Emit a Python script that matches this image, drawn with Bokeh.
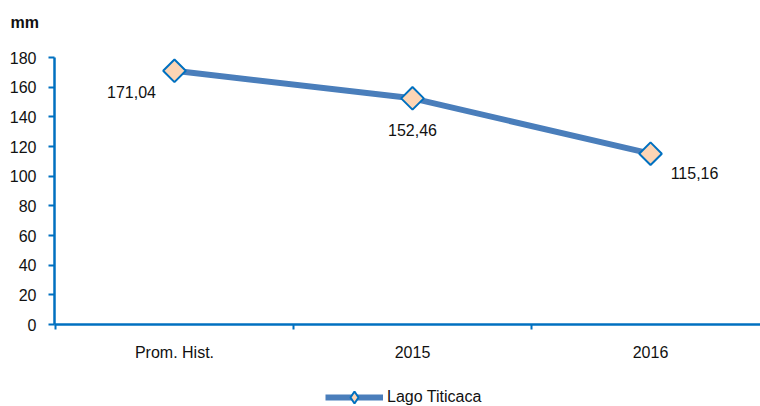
import math
from bokeh.plotting import figure
from bokeh.layouts import column
from bokeh.models import (ColumnDataSource, FixedTicker, Range1d, Legend, LegendItem)
from bokeh.core.properties import value
from bokeh.embed import file_html
from bokeh.resources import INLINE

# ---- data ----
categories = ["Prom. Hist.", "2015", "2016"]
values = [171.04, 152.46, 115.16]
value_labels = ["171,04", "152,46", "115,16"]
y_ticks = [0, 20, 40, 60, 80, 100, 120, 140, 160, 180]
y_axis_max = 180
series_name = "Lago Titicaca"
y_unit = "mm"

# ---- styles ----
label_dx = [-43, 0, 44]
label_dy = [21, 32, 19]
FONT = "Liberation Sans"
AXIS_BLUE = "#0070C0"
LINE_BLUE = "#4A7EBB"
MARKER_FILL = "#FCD5B5"
TEXT = "#111111"

xs = list(range(len(categories)))
src = ColumnDataSource(dict(x=xs, y=values, lbl=value_labels, dx=label_dx, dy=label_dy))

# frame extends 17px above the 180 tick (1.4833 px per unit) to leave room for the unit title
p = figure(width=760, height=376, output_backend="svg", toolbar_location=None,
           x_range=Range1d(-0.504, 2.462), y_range=Range1d(0, y_axis_max + 17 / 1.4833),
           min_border_left=54, min_border_right=0, min_border_top=40, min_border_bottom=52)
p.outline_line_color = None
p.xgrid.visible = False
p.ygrid.visible = False

p.title.text = y_unit
p.title.align = "left"
p.title.offset = -44
p.title.standoff = 19
p.title.text_font = FONT
p.title.text_font_size = "16px"
p.title.text_font_style = "bold"
p.title.text_color = TEXT

line_style = dict(line_color=LINE_BLUE, line_width=6)
marker_style = dict(size=16, fill_color=MARKER_FILL, line_color=AXIS_BLUE, line_width=2)

p.line("x", "y", source=src, **line_style)
p.scatter("x", "y", source=src, marker="square", angle=math.pi / 4, **marker_style)

p.text("x", "y", text="lbl", source=src, x_offset="dx", y_offset="dy",
       text_align="center", text_baseline="middle", text_font=value(FONT),
       text_font_size="16px", text_color=TEXT)

# x axis
xa = p.xaxis[0]
xa.ticker = FixedTicker(ticks=xs, minor_ticks=[-0.5, 0.5, 1.5, 2.5])
xa.major_label_overrides = {i: c for i, c in enumerate(categories)}
xa.major_tick_line_color = None
xa.major_tick_out = 5
xa.major_tick_in = 0
xa.minor_tick_line_color = AXIS_BLUE
xa.minor_tick_line_width = 2
xa.minor_tick_out = 5
xa.minor_tick_in = 0
xa.axis_line_color = AXIS_BLUE
xa.axis_line_width = 2.5
xa.major_label_text_font = FONT
xa.major_label_text_font_size = "16px"
xa.major_label_text_color = TEXT
xa.major_label_standoff = 14

# y axis
ya = p.yaxis[0]
ya.ticker = FixedTicker(ticks=y_ticks)
ya.bounds = (0, y_axis_max)
ya.minor_tick_line_color = None
ya.major_tick_line_color = AXIS_BLUE
ya.major_tick_line_width = 2
ya.major_tick_out = 6
ya.major_tick_in = 0
ya.axis_line_color = AXIS_BLUE
ya.axis_line_width = 2.5
ya.major_label_text_font = FONT
ya.major_label_text_font_size = "16px"
ya.major_label_text_color = TEXT
ya.major_label_standoff = 12

# legend strip below the chart (its glyphs fall outside its own ranges, only the legend shows)
lf = figure(width=760, height=30, output_backend="svg", toolbar_location=None,
            x_range=Range1d(-10, -9), y_range=Range1d(-10, -9),
            x_axis_location=None, y_axis_location=None, min_border=0)
lf.outline_line_color = None
lf.grid.visible = False
lr = lf.line("x", "y", source=src, **line_style)
lm = lf.scatter("x", "y", source=src, marker="diamond", **marker_style)
legend = Legend(items=[LegendItem(label=series_name, renderers=[lr, lm])],
                location=(271, -6), orientation="horizontal",
                glyph_width=58, glyph_height=30, label_standoff=4,
                padding=0, margin=0, border_line_color=None,
                label_text_font=FONT, label_text_font_size="16px",
                label_text_color=TEXT, background_fill_alpha=0)
lf.add_layout(legend)

layout = column(p, lf, spacing=0)
open("out.html", "w").write(file_html(layout, INLINE))
